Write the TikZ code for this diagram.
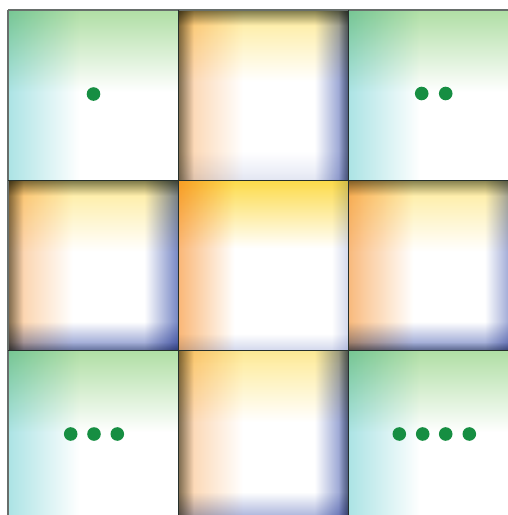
\documentclass[tikz,border=0pt]{standalone}
\definecolor{cgreen}{HTML}{9CD68E}
\definecolor{ccyan}{HTML}{90DADC}
\definecolor{cyellow}{HTML}{FCD940}
\definecolor{corange}{HTML}{F8A555}
\definecolor{cblue}{HTML}{4A5FB2}
\definecolor{cdark}{HTML}{3A4236}
\definecolor{cdot}{HTML}{168E42}
\definecolor{cline}{HTML}{26302C}
\def\cs{170.3}
% strips (multiplied onto white): x, y, colour, fraction, strength (0-100)
\newcommand\stripT[5]{\shade[top color=#3!#5!white, middle color=#3!#5!white!42!white, bottom color=white] ({#1},{#2}) rectangle ++({\cs},{#4*\cs});}
\newcommand\stripB[5]{\shade[bottom color=#3!#5!white, middle color=#3!#5!white!42!white, top color=white] ({#1},{#2+\cs}) rectangle ++({\cs},{-#4*\cs});}
\newcommand\stripL[5]{\shade[left color=#3!#5!white, middle color=#3!#5!white!42!white, right color=white] ({#1},{#2}) rectangle ++({#4*\cs},{\cs});}
\newcommand\stripR[5]{\shade[right color=#3!#5!white, middle color=#3!#5!white!42!white, left color=white] ({#1+\cs},{#2}) rectangle ++({-#4*\cs},{\cs});}
\newcommand\cornersq[2]{%
  \stripT{#1}{#2}{cgreen}{0.48}{80}
  \stripL{#1}{#2}{ccyan}{0.42}{75}
}
\newcommand\edgesq[8]{% x y darkT darkL darkR darkB blueB orange
  \stripT{#1}{#2}{cyellow}{0.42}{55}
  \stripL{#1}{#2}{corange}{0.38}{#8}
  \stripR{#1}{#2}{cblue}{0.2}{75}
  \stripB{#1}{#2}{cblue}{0.17}{#7}
  \stripT{#1}{#2}{cdark}{0.09}{#3}
  \stripL{#1}{#2}{cdark}{0.09}{#4}
  \stripR{#1}{#2}{cdark}{0.06}{#5}
  \stripB{#1}{#2}{cdark}{0.05}{#6}
}
\begin{document}
\begin{tikzpicture}[x=1pt,y=-1pt,
  dotmark/.style={fill=cdot, draw=none},
  gridline/.style={draw=cline, line width=1.6pt}]
\useasboundingbox (0,0) rectangle (508,515);
\clip (0,0) rectangle (508,515);
\fill[white] (0,0) rectangle (508,515);
\begin{scope}[blend mode=multiply]
% corners
\cornersq{8}{10}
\cornersq{348.6}{10}
\cornersq{8}{350.6}
\cornersq{348.6}{350.6}
% edges
\edgesq{178.3}{10}{65}{65}{50}{1}{15}{55}
\edgesq{8}{180.3}{65}{65}{1}{30}{70}{60}
\edgesq{348.6}{180.3}{60}{1}{40}{40}{70}{75}
\edgesq{178.3}{350.6}{1}{65}{50}{1}{55}{55}
% centre
\stripT{178.3}{180.3}{cyellow}{0.4}{95}
\stripL{178.3}{180.3}{corange}{0.33}{80}
\stripR{178.3}{180.3}{cblue}{0.1}{25}
\stripB{178.3}{180.3}{cblue}{0.1}{25}
\end{scope}
% grid lines
\draw[gridline, draw=cline!70] (8,10) -- (508,10);
\draw[gridline, draw=cline!70] (8,10) -- (8,515);
\draw[gridline] (178.3,10) -- (178.3,515);
\draw[gridline] (348.6,10) -- (348.6,515);
\draw[gridline] (8,180.3) -- (508,180.3);
\draw[gridline] (8,350.6) -- (508,350.6);
% dots
\fill[dotmark] (93.5,94) circle (6.8);
\fill[dotmark] (421.7,93.5) circle (6.8);
\fill[dotmark] (445.7,93.5) circle (6.8);
\fill[dotmark] (70.7,434) circle (6.8);
\fill[dotmark] (94,434) circle (6.8);
\fill[dotmark] (117.3,434) circle (6.8);
\fill[dotmark] (399.3,434) circle (6.8);
\fill[dotmark] (422.7,434) circle (6.8);
\fill[dotmark] (445.7,434) circle (6.8);
\fill[dotmark] (469.3,434) circle (6.8);
\end{tikzpicture}
\end{document}
